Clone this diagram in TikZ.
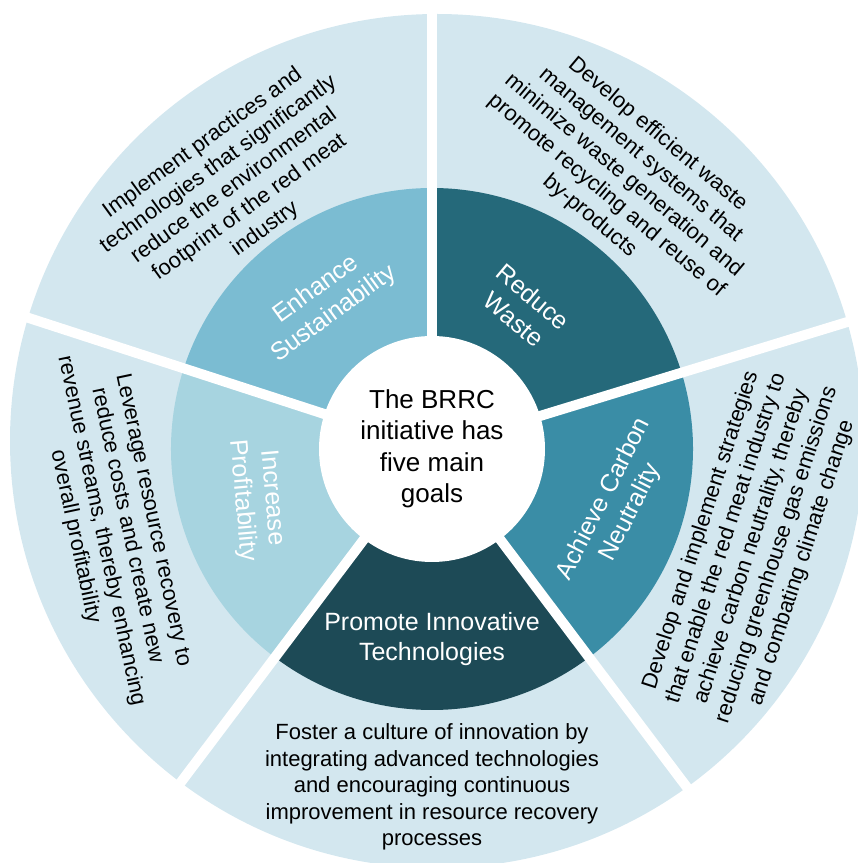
\documentclass[tikz,border=0pt]{standalone}
\usepackage{fontspec}
\setmainfont{Liberation Sans}
\definecolor{outerc}{RGB}{211,231,239}
\definecolor{sustc}{RGB}{123,188,210}
\definecolor{wastec}{RGB}{37,105,122}
\definecolor{carbonc}{RGB}{58,141,166}
\definecolor{innovc}{RGB}{29,74,86}
\definecolor{profitc}{RGB}{167,212,224}
\begin{document}
\begin{tikzpicture}[x=1pt,y=1pt,
  innerlabel/.style={text=white, align=center, font=\fontsize{25}{30}\selectfont, inner sep=0pt},
  outerlabel/.style={text=black, align=center, font=\fontsize{22}{26.5}\selectfont, inner sep=0pt},
  centrelabel/.style={text=black, align=center, font=\fontsize{26}{31.5}\selectfont, inner sep=0pt},
  gapline/.style={white, line width=10pt}]
\useasboundingbox (0,0) rectangle (858,863);
\clip (0,0) rectangle (858,863);
\coordinate (O) at (432,414);
\coordinate (P) at (437,422);
% outer ring
\fill[outerc] (P) circle[radius=427];
% inner ring sectors
\fill[sustc] (O) -- ++(90:261) arc[start angle=90,end angle=162,radius=261] -- cycle;
\fill[wastec] (O) -- ++(17:261) arc[start angle=17,end angle=90,radius=261] -- cycle;
\fill[carbonc] (O) -- ++(-53:261) arc[start angle=-53,end angle=17,radius=261] -- cycle;
\fill[innovc] (O) -- ++(-127:261) arc[start angle=-127,end angle=-53,radius=261] -- cycle;
\fill[profitc] (O) -- ++(162:261) arc[start angle=162,end angle=233,radius=261] -- cycle;
% gaps
\foreach \a in {90,17,-53,-127,162} \draw[gapline] (O) -- ++(\a:480);
% centre
\fill[white] (O) circle[radius=113];
\node[centrelabel] (centre) at (O) {The BRRC\\initiative has\\five main\\goals};
% inner labels
\node[innerlabel, rotate=36] (sust) at ([shift={(126:182)}]O) {Enhance\\Sustainability};
\node[innerlabel, rotate=-40] (waste) at ([shift={(57:168)}]O) {Reduce\\Waste};
\node[innerlabel, rotate=63] (carbon) at ([shift={(-17:194)}]O) {Achieve Carbon\\Neutrality};
\node[innerlabel] (innov) at ([shift={(-90:190)}]O) {Promote Innovative\\Technologies};
\node[innerlabel, rotate=-85] (profit) at ([shift={(196:182)}]O) {Increase\\Profitability};
% outer labels
\node[outerlabel, rotate=36] (sustd) at ([shift={(127:329)}]O) {Implement practices and\\technologies that significantly\\reduce the environmental\\footprint of the red meat\\industry};
\node[outerlabel, rotate=-40] (wasted) at ([shift={(55:334)}]O) {Develop efficient waste\\management systems that\\minimize waste generation and\\promote recycling and reuse of\\by-products};
\node[outerlabel, rotate=72] (carbond) at ([shift={(-17:334)}]O) {Develop and implement strategies\\that enable the red meat industry to\\achieve carbon neutrality, thereby\\reducing greenhouse gas emissions\\and combating climate change};
\node[outerlabel] (innovd) at ([shift={(-90:338)}]O) {Foster a culture of innovation by\\integrating advanced technologies\\and encouraging continuous\\improvement in resource recovery\\processes};
\node[outerlabel, rotate=-78] (profitd) at ([shift={(194:328)}]O) {Leverage resource recovery to\\reduce costs and create new\\revenue streams, thereby enhancing\\overall profitability};
\end{tikzpicture}
\end{document}
